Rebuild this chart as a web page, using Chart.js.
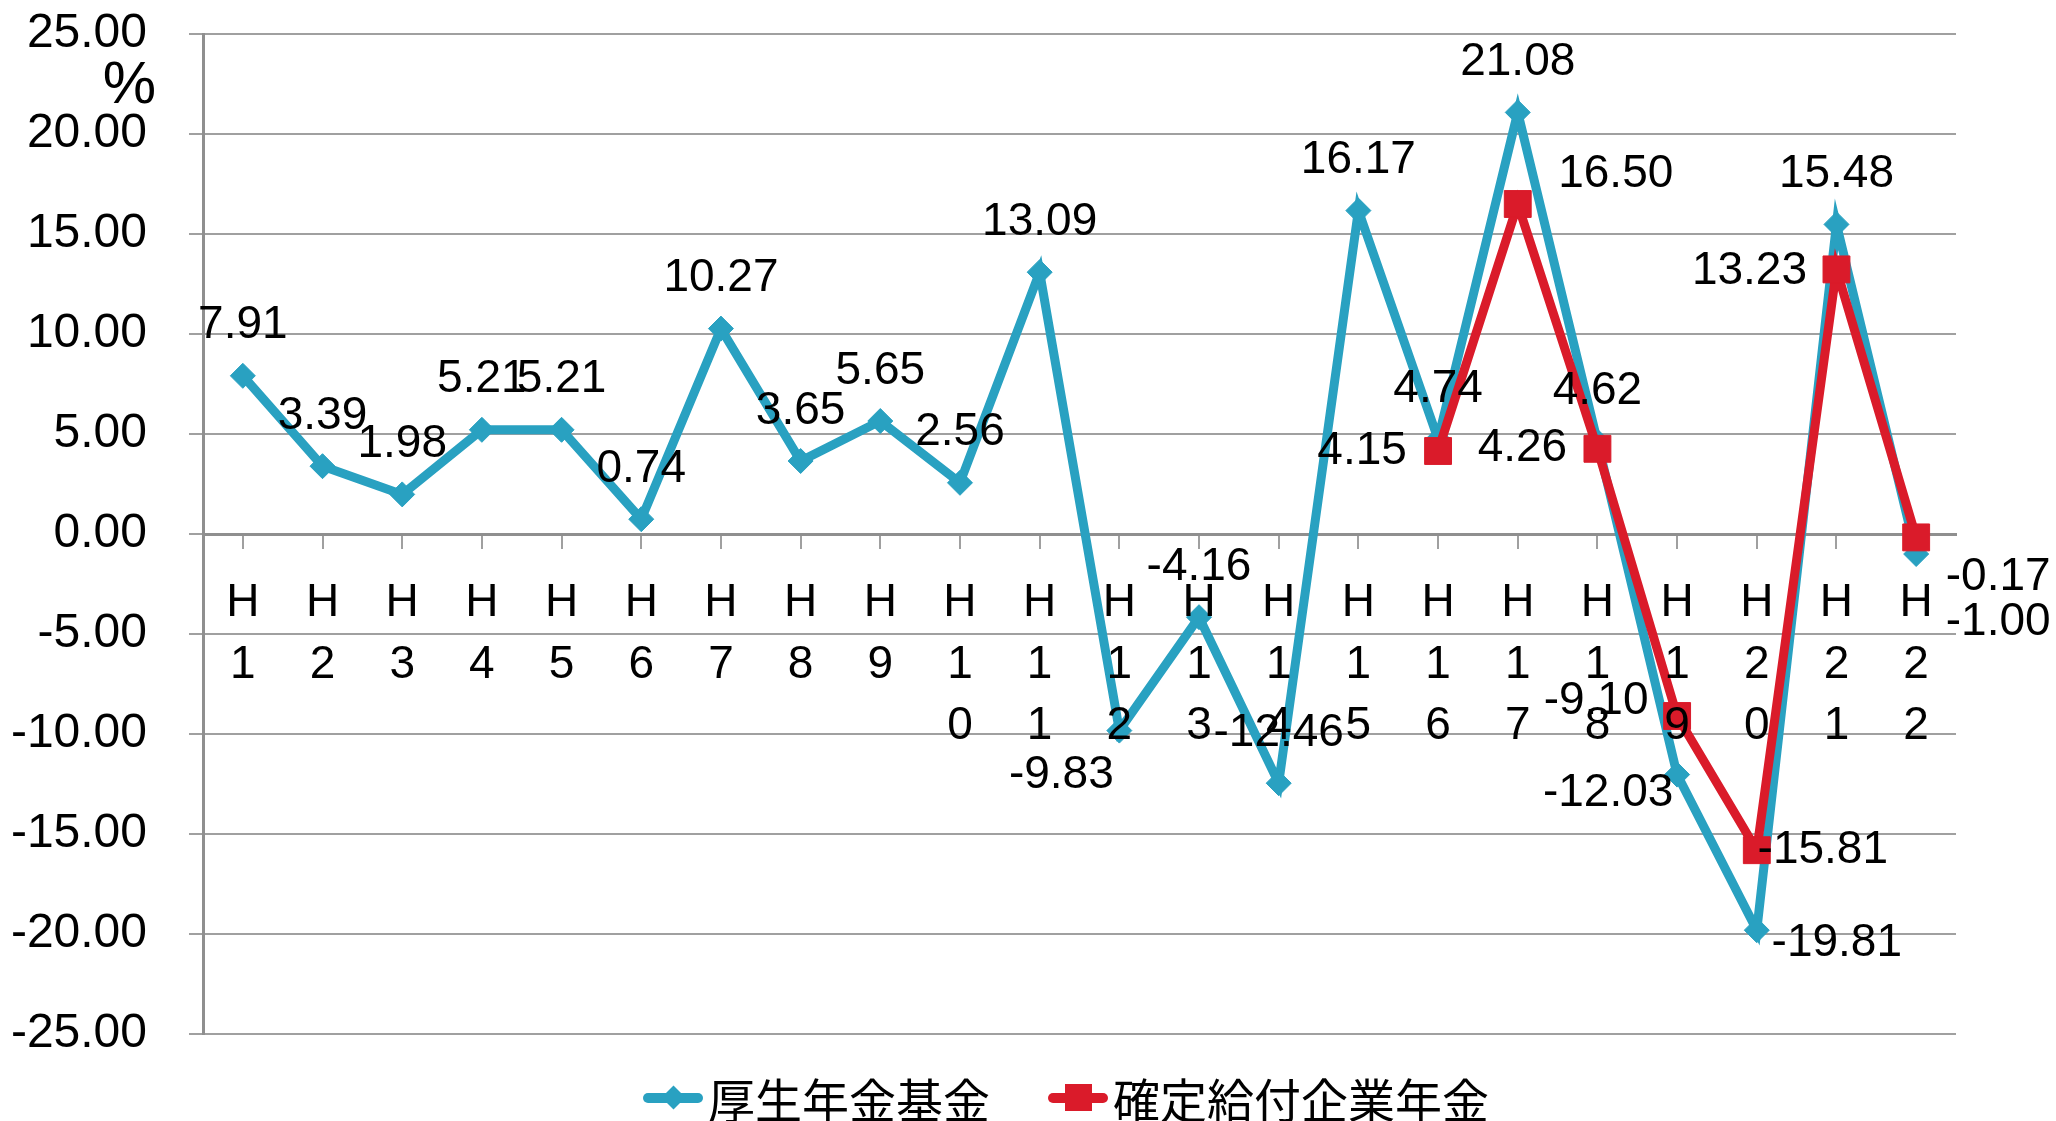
<!DOCTYPE html>
<html>
<head>
<meta charset="utf-8">
<script src="https://cdn.jsdelivr.net/npm/chart.js@4.4.1/dist/chart.umd.min.js"></script>
<style>
  html, body { margin: 0; padding: 0; background: #fff; }
  #wrap { position: relative; width: 2056px; height: 1121px; }
  #legend {
    position: absolute; left: 643px; top: 1074px;
    display: flex; align-items: center;
    font-family: "Noto Sans CJK JP", sans-serif; font-size: 47px; line-height: 47px; color: #000;
  }
  .item { display: flex; align-items: center; margin-right: 58px; }
  .mark { position: relative; width: 60px; height: 30px; margin-right: 5px; }
  .mark .ln { position: absolute; left: 0; top: 10px; width: 60px; height: 10px; border-radius: 5px; }
  .mark .pt { position: absolute; }
</style>
</head>
<body>
<div id="wrap">
  <canvas id="lineChart" width="2056" height="1121"></canvas>
  <div id="legend"></div>
</div>
<script>
var categories = ['H1', 'H2', 'H3', 'H4', 'H5', 'H6', 'H7', 'H8', 'H9', 'H10', 'H11',
                  'H12', 'H13', 'H14', 'H15', 'H16', 'H17', 'H18', 'H19', 'H20', 'H21', 'H22'];
var kouseiValues = [7.91, 3.39, 1.98, 5.21, 5.21, 0.74, 10.27, 3.65, 5.65, 2.56, 13.09,
                    -9.83, -4.16, -12.46, 16.17, 4.74, 21.08, 4.62, -12.03, -19.81, 15.48, -1.00];
var kakuteiValues = [null, null, null, null, null, null, null, null, null, null, null,
                     null, null, null, null, 4.15, 16.50, 4.26, -9.10, -15.81, 13.23, -0.17];
var seriesNames = ['厚生年金基金', '確定給付企業年金'];
var seriesColors = ['#29a1c1', '#da1b2a'];

// label offsets (px from the point) where the label is not simply above it
var kouseiLabelOffsets = { 11: [-58, 45], 18: [-69, 19], 19: [80, 13], 21: [82, 68] };
var kakuteiLabelOffsets = { 15: [-76, 0], 16: [98, -30], 17: [-75, 0], 18: [-81, -15],
                            19: [66, 0], 20: [-87, 2], 21: [82, 40] };
var labelOffsets = [kouseiLabelOffsets, kakuteiLabelOffsets];

var latinFont = '"Liberation Sans", Arial, sans-serif';

var valueLabels = {
    id: 'valueLabels',
    afterDatasetsDraw: function (chart) {
        var ctx = chart.ctx;
        ctx.save();
        ctx.font = '46px ' + latinFont;
        ctx.fillStyle = '#000';
        ctx.textAlign = 'center';
        ctx.textBaseline = 'middle';
        chart.data.datasets.forEach(function (ds, di) {
            var meta = chart.getDatasetMeta(di);
            meta.data.forEach(function (pt, i) {
                var v = ds.data[i];
                if (v === null) return;
                var off = labelOffsets[di][i] || [0, -50];
                ctx.fillText(v.toFixed(2), pt.x + off[0], pt.y + off[1]);
            });
        });
        ctx.restore();
    },
    afterDraw: function (chart) {
        var ctx = chart.ctx;
        ctx.save();
        ctx.font = '60px ' + latinFont;
        ctx.fillStyle = '#000';
        ctx.textAlign = 'right';
        ctx.textBaseline = 'middle';
        ctx.fillText('%', 156, 86);
        ctx.restore();
    }
};

var lineData = {
    labels: categories,
    datasets: [
        {
            label: seriesNames[0],
            data: kouseiValues,
            borderColor: seriesColors[0],
            backgroundColor: seriesColors[0],
            borderWidth: 9,
            pointStyle: 'rectRot',
            pointRadius: 12.5,
            pointBorderWidth: 1,
            order: 1
        },
        {
            label: seriesNames[1],
            data: kakuteiValues,
            borderColor: seriesColors[1],
            backgroundColor: seriesColors[1],
            borderWidth: 9,
            pointStyle: 'rect',
            pointRadius: 19,
            pointBorderWidth: 1,
            order: 0
        }
    ]
};

var lineOptions = {
    responsive: false,
    animation: false,
    devicePixelRatio: 1,
    layout: { padding: { left: 0, top: 34, right: 100, bottom: 87 } },
    plugins: {
        legend: { display: false },
        tooltip: { enabled: false }
    },
    scales: {
        x: {
            type: 'category',
            position: { y: 0 },
            offset: true,
            afterFit: function (scale) { scale.height = 0; },
            grid: { display: true, drawOnChartArea: false, drawTicks: true, tickLength: 13,
                    color: '#a0a0a0', lineWidth: 2 },
            border: { display: true, color: '#8f8f8f', width: 3 },
            ticks: {
                z: 1,
                autoSkip: false, maxRotation: 0, minRotation: 0,
                padding: 26,
                color: '#000',
                font: { family: latinFont, size: 46, lineHeight: 1.337 },
                callback: function (value, index) { return categories[index].split(''); }
            }
        },
        y: {
            min: -25, max: 25,
            afterFit: function (scale) {
                scale.width = 203;
                scale.paddingTop = 0;
                scale.paddingBottom = 0;
            },
            grid: { color: '#a0a0a0', lineWidth: 2, tickLength: 14 },
            border: { display: true, color: '#8f8f8f', width: 3 },
            ticks: {
                stepSize: 5,
                padding: 42,
                color: '#000',
                font: { family: latinFont, size: 48 },
                callback: function (value) { return value.toFixed(2); }
            }
        }
    }
};

var ctx = document.getElementById('lineChart').getContext('2d');
var chart = new Chart(ctx, { type: 'line', data: lineData, options: lineOptions, plugins: [valueLabels] });

// legend built from the chart's datasets
var legendEl = document.getElementById('legend');
chart.data.datasets.forEach(function (ds) {
    var item = document.createElement('div');
    item.className = 'item';
    var mark = document.createElement('div');
    mark.className = 'mark';
    var ln = document.createElement('div');
    ln.className = 'ln';
    ln.style.background = ds.borderColor;
    var pt = document.createElement('div');
    pt.className = 'pt';
    pt.style.background = ds.borderColor;
    if (ds.pointStyle === 'rectRot') {
        pt.style.width = '17px'; pt.style.height = '17px';
        pt.style.left = '21.5px'; pt.style.top = '6.5px';
        pt.style.transform = 'rotate(45deg)';
    } else {
        pt.style.width = '27px'; pt.style.height = '27px';
        pt.style.left = '16.5px'; pt.style.top = '1.5px';
    }
    mark.appendChild(ln);
    mark.appendChild(pt);
    var txt = document.createElement('span');
    txt.textContent = ds.label;
    item.appendChild(mark);
    item.appendChild(txt);
    legendEl.appendChild(item);
});
</script>
</body>
</html>
